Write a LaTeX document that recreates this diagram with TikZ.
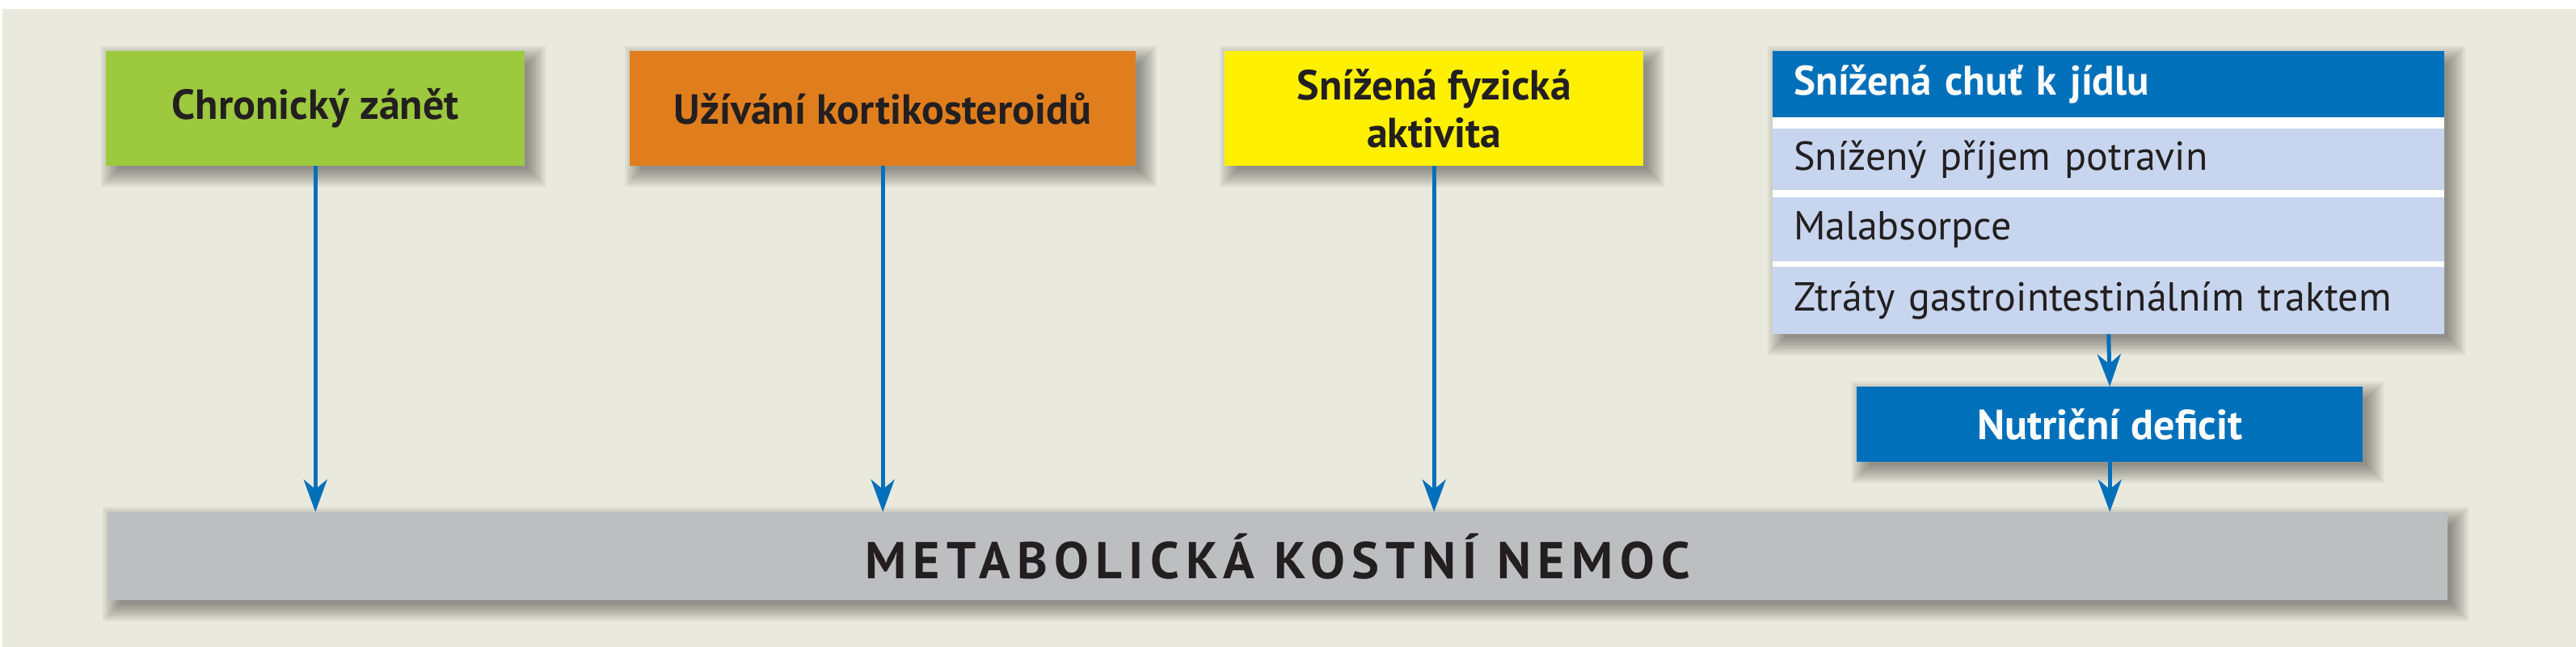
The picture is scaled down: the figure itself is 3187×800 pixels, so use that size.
\documentclass[tikz,border=0pt]{standalone}
\usepackage{fontspec}
\setmainfont{PT Sans}
\usetikzlibrary{arrows.meta,calc}
\pgfdeclarelayer{background}
\pgfsetlayers{background,main}
\definecolor{bgc}{HTML}{E9E9DD}
\definecolor{cgreen}{HTML}{9CC93E}
\definecolor{corange}{HTML}{E07E1E}
\definecolor{cyellow}{HTML}{FFF000}
\definecolor{cblue}{HTML}{0070BA}
\definecolor{clight}{HTML}{C7D5EE}
\definecolor{cgrey}{HTML}{BDBEC0}
\definecolor{ctxt}{HTML}{231F20}
\newcommand\boxshadow[1]{%
  \foreach \e in {16,13,...,-5} {
    \fill[black,opacity=0.055] ($(#1.north west)+(10-\e,10-\e)$) rectangle ($(#1.south east)+(10+\e,10+\e)$);
  }}
\tikzset{
  box/.style={rectangle, inner sep=0pt, anchor=north west, align=center, text=ctxt,
    font=\bfseries\fontsize{52}{59}\selectfont},
  rowbox/.style={rectangle, anchor=north west, inner ysep=0pt, inner xsep=26pt,
    minimum width=831pt, text width=779pt, align=left, fill=clight, text=ctxt,
    font=\fontsize{50}{56}\selectfont},
  link/.style={draw=cblue, line width=5pt, -{Stealth[length=40pt,width=29pt,inset=12pt]}}
}
\begin{document}
\begin{tikzpicture}[x=1pt,y=-1pt]
\useasboundingbox (0,0) rectangle (3187,800);
\begin{pgfonlayer}{background}
  \fill[white] (0,0) rectangle (3187,800);
  \fill[bgc] (3,11) rectangle (3187,800);
\end{pgfonlayer}
% top boxes
\node[box, fill=cgreen, minimum width=518pt, minimum height=142pt] (green) at (131,63) {Chronický zánět};
\node[box, fill=corange, minimum width=626pt, minimum height=142pt] (orange) at (779,63) {Užívání kortikosteroidů};
\node[box, fill=cyellow, minimum width=518pt, minimum height=142pt] (yellow) at (1515,63) {Snížená fyzická\\aktivita};
% stack
\node[rectangle, anchor=north west, inner sep=0pt, fill=white, minimum width=831pt, minimum height=350pt] (stack) at (2193,63) {};
\node[rowbox, fill=cblue, text=white, minimum height=82pt, font=\bfseries\fontsize{51}{56}\selectfont] (head) at (2193,63) {Snížená chuť k jídlu};
\node[rowbox, minimum height=76pt] (r1) at (2193,159) {Snížený příjem potravin};
\node[rowbox, minimum height=79pt] (r2) at (2193,244) {Malabsorpce};
\node[rowbox, minimum height=83pt] (r3) at (2193,330) {Ztráty gastrointestinálním traktem};
% nutrition
\node[box, fill=cblue, text=white, minimum width=626pt, minimum height=93pt] (nutri) at (2297,478) {Nutriční deficit};
% bar
\node[box, fill=cgrey, minimum width=2895pt, minimum height=109pt,
  font=\bfseries\fontsize{64}{70}\selectfont\addfontfeature{LetterSpace=13}] (bar) at (133,633) {METABOLICKÁ KOSTNÍ NEMOC};
\begin{pgfonlayer}{background}
  \boxshadow{green}
  \boxshadow{orange}
  \boxshadow{yellow}
  \boxshadow{stack}
  \boxshadow{nutri}
  \boxshadow{bar}
\end{pgfonlayer}
% connectors
\draw[link] (green.south) -- (green.south |- bar.north);
\draw[link] (orange.south) -- (orange.south |- bar.north);
\draw[link] (yellow.south) -- (yellow.south |- bar.north);
\draw[link] (stack.south) -- (nutri.north);
\draw[link] (nutri.south) -- (nutri.south |- bar.north);
\end{tikzpicture}
\end{document}
